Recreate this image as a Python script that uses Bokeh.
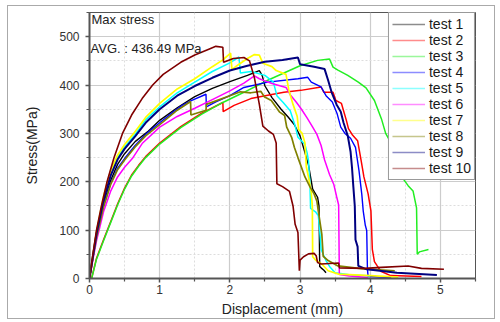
from bokeh.plotting import figure
from bokeh.models import Legend, LegendItem, FixedTicker, Range1d, Label
from bokeh.embed import file_html
from bokeh.resources import INLINE

# ---------------- data ----------------
test1_x = [0, 0.05, 0.1, 0.2, 0.3, 0.4, 0.5, 0.65, 0.84, 1.0, 1.25, 1.5, 1.75, 2.0, 2.25, 2.42, 2.46, 2.5, 2.6, 2.73, 2.83, 2.92, 3.0, 3.05, 3.12, 3.18, 3.25, 3.27, 3.28, 3.3, 3.34, 3.37]
test1_y = [0, 45, 88, 155, 202, 236, 258, 283, 305, 327, 353, 376, 393, 407, 420, 430, 420, 398, 374, 350, 334, 318, 295, 270, 235, 185, 168, 150, 25, 22, 17, 12]

test2_x = [0.03, 0.1, 0.2, 0.3, 0.4, 0.5, 0.6, 0.7, 0.8, 1.0, 1.3, 1.6, 1.9, 1.905, 2.06, 2.3, 2.54, 2.77, 3.01, 3.3, 3.34, 3.47, 3.51, 3.59, 3.66, 3.69, 3.75, 3.82, 3.87, 3.91, 3.97, 4.01, 4.03, 4.06, 4.1, 4.15, 4.29, 4.73]
test2_y = [0, 42, 80, 117, 154, 187, 214, 234, 252, 280, 314, 342, 364, 345, 358, 372, 379, 385, 389, 396, 385, 385, 368, 362, 327, 310, 296, 285, 244, 210, 175, 140, 60, 35, 26, 15, 6, 4]

test3_x = [0.03, 0.1, 0.2, 0.3, 0.4, 0.5, 0.6, 0.7, 0.8, 1.0, 1.3, 1.6, 1.9, 2.2, 2.54, 3.0, 3.25, 3.42, 3.47, 3.54, 3.68, 3.83, 3.94, 4.06, 4.16, 4.22, 4.29, 4.38, 4.47, 4.54, 4.61, 4.66, 4.67, 4.7, 4.83]
test3_y = [0, 40, 78, 115, 152, 185, 212, 232, 250, 278, 312, 340, 364, 385, 410, 440, 451, 454, 437, 431, 420, 406, 394, 368, 330, 300, 282, 250, 206, 192, 181, 146, 50, 55, 60]

test4_x = [0, 0.05, 0.1, 0.2, 0.3, 0.4, 0.5, 0.65, 0.8, 1.0, 1.2, 1.32, 1.45, 1.66, 1.665, 1.8, 2.0, 2.2, 2.54, 2.97, 3.11, 3.16, 3.3, 3.37, 3.46, 3.53, 3.58, 3.64, 3.72, 3.79, 3.84, 3.88, 3.9, 3.93, 3.95, 3.96, 3.97, 4.3]
test4_y = [0, 44, 86, 150, 196, 228, 248, 275, 298, 322, 345, 358, 368, 381, 355, 365, 378, 395, 406, 413, 416, 406, 396, 378, 365, 340, 313, 300, 290, 271, 223, 174, 140, 110, 99, 20, 4, 2]

test5_x = [0, 0.05, 0.1, 0.2, 0.3, 0.4, 0.5, 0.65, 0.8, 1.0, 1.25, 1.5, 1.75, 2.0, 2.13, 2.15, 2.3, 2.5, 2.62, 2.67, 2.76, 2.86, 2.93, 2.97, 3.07, 3.1, 3.12, 3.14, 3.15, 3.22, 3.26, 3.28, 3.3, 3.37, 3.42, 3.5, 3.7, 4.0]
test5_y = [0, 46, 92, 163, 215, 250, 272, 298, 328, 355, 384, 406, 428, 446, 458, 425, 428, 420, 406, 378, 364, 347, 316, 292, 277, 260, 244, 200, 145, 138, 130, 100, 60, 37, 25, 12, 8, 5]

test6_x = [0, 0.05, 0.1, 0.2, 0.3, 0.4, 0.5, 0.61, 0.75, 1.0, 1.25, 1.5, 1.75, 2.0, 2.2, 2.35, 2.42, 2.6, 2.8, 2.86, 2.95, 3.02, 3.1, 3.18, 3.24, 3.3, 3.35, 3.42, 3.48, 3.52, 3.55, 3.56, 3.7, 3.97]
test6_y = [0, 40, 78, 138, 180, 210, 230, 248, 279, 313, 335, 352, 370, 388, 404, 419, 413, 403, 395, 380, 364, 350, 332, 313, 298, 275, 245, 215, 195, 170, 152, 8, 5, 2]

test7_x = [0, 0.05, 0.1, 0.2, 0.3, 0.4, 0.5, 0.63, 0.8, 1.0, 1.25, 1.5, 1.75, 1.9, 2.01, 2.03, 2.1, 2.25, 2.35, 2.42, 2.47, 2.6, 2.66, 2.8, 2.84, 2.9, 2.96, 2.98, 3.03, 3.07, 3.09, 3.12, 3.16, 3.175, 3.18, 3.23, 3.31, 3.4, 3.55, 4.0, 4.4]
test7_y = [0, 50, 97, 170, 222, 255, 277, 300, 333, 362, 392, 413, 438, 452, 466, 432, 440, 455, 463, 462, 445, 438, 430, 422, 390, 360, 335, 308, 300, 280, 230, 210, 178, 150, 45, 37, 30, 16, 9, 6, 3]

test8_x = [0, 0.05, 0.1, 0.2, 0.3, 0.4, 0.5, 0.65, 0.8, 1.0, 1.25, 1.44, 1.445, 1.66, 1.665, 2.0, 2.15, 2.3, 2.44, 2.49, 2.59, 2.71, 2.78, 2.81, 2.88, 2.92, 2.97, 3.07, 3.14, 3.2, 3.24, 3.26, 3.31, 3.33, 3.4, 3.54, 3.9, 4.35]
test8_y = [0, 44, 85, 148, 194, 225, 245, 272, 295, 318, 348, 366, 338, 348, 360, 378, 386, 384, 387, 376, 368, 344, 337, 313, 292, 271, 250, 210, 190, 175, 160, 140, 92, 46, 37, 26, 20, 16]

test9_x = [0, 0.05, 0.1, 0.2, 0.3, 0.4, 0.5, 0.65, 0.8, 1.0, 1.25, 1.5, 1.75, 2.0, 2.25, 2.5, 2.75, 2.97, 3.0, 3.2, 3.35, 3.4, 3.45, 3.52, 3.58, 3.62, 3.68, 3.72, 3.74, 3.76, 3.78, 3.79, 3.82, 3.83, 3.95, 4.38, 4.95]
test9_y = [0, 47, 93, 162, 212, 246, 268, 294, 322, 350, 378, 398, 415, 430, 440, 448, 452, 457, 443, 438, 433, 410, 385, 360, 345, 322, 295, 262, 230, 189, 150, 80, 66, 26, 19, 12, 7]

test10_x = [0, 0.05, 0.1, 0.17, 0.25, 0.35, 0.47, 0.6, 0.75, 0.9, 1.05, 1.3, 1.5, 1.7, 1.8, 1.9, 1.91, 2.05, 2.2, 2.28, 2.35, 2.42, 2.47, 2.55, 2.62, 2.66, 2.67, 2.75, 2.85, 2.9, 2.93, 2.97, 2.99, 3.0, 3.05, 3.12, 3.2, 3.23, 3.25, 3.3, 3.55, 3.56, 3.92, 4.16, 4.54, 4.73, 5.05]
test10_y = [0, 52, 100, 150, 200, 250, 300, 338, 372, 400, 422, 447, 462, 474, 480, 478, 447, 455, 457, 450, 415, 360, 315, 305, 298, 280, 196, 190, 180, 150, 112, 95, 16, 38, 45, 51, 52, 47, 33, 30, 32, 22, 21, 23, 26, 21, 19]

series_names = ["test 1", "test 2", "test 3", "test 4", "test 5",
                "test 6", "test 7", "test 8", "test 9", "test 10"]
series_x = [test1_x, test2_x, test3_x, test4_x, test5_x, test6_x, test7_x, test8_x, test9_x, test10_x]
series_y = [test1_y, test2_y, test3_y, test4_y, test5_y, test6_y, test7_y, test8_y, test9_y, test10_y]
series_colors = ["#000000", "#FF0000", "#22EE22", "#0000FF", "#00FFFF",
                 "#FF00FF", "#FFFF00", "#808000", "#000080", "#800000"]
series_widths = [1.4, 1.5, 1.5, 1.4, 1.5, 1.5, 1.7, 1.7, 2.0, 1.6]

x_ticks = [0, 1, 2, 3, 4, 5]
x_minor = [0.5, 1.5, 2.5, 3.5, 4.5, 5.5]
y_ticks = [0, 100, 200, 300, 400, 500]
y_minor = [50, 150, 250, 350, 450, 550]

title_text = "Max stress"
avg_text = "AVG. : 436.49 MPa"

FONT = "Liberation Sans"

p = figure(width=488, height=314, output_backend="svg", toolbar_location=None,
           x_range=Range1d(0, 5.5), y_range=Range1d(0, 550),
           min_border_left=81, min_border_right=21, min_border_top=6, min_border_bottom=42)
p.styles = {"border": "1px solid #aaaaaa", "margin-left": "7px", "margin-top": "5px"}
p.background_fill_color = "white"
p.border_fill_color = "white"
p.outline_line_color = "#555555"
p.outline_line_width = 1

for ax, label, ticks, minor in ((p.xaxis[0], "Displacement (mm)", x_ticks, x_minor),
                                (p.yaxis[0], "Stress(MPa)", y_ticks, y_minor)):
    ax.ticker = FixedTicker(ticks=ticks, minor_ticks=minor)
    ax.axis_label = label
    ax.axis_label_text_font = FONT
    ax.axis_label_text_font_size = "14px"
    ax.axis_label_text_font_style = "normal"
    ax.axis_label_text_color = "#222222"
    ax.major_label_text_font = FONT
    ax.major_label_text_font_size = "12px"
    ax.major_label_text_color = "#333333"
    ax.axis_line_color = "#555555"
    ax.axis_line_width = 2
    ax.major_tick_line_color = "#555555"
    ax.major_tick_line_width = 1.5
    ax.minor_tick_line_color = "#555555"
    ax.minor_tick_line_width = 1.2
    ax.major_tick_in = 0
    ax.major_tick_out = 4
    ax.minor_tick_in = 0
    ax.minor_tick_out = 3

p.xaxis.major_label_standoff = 2
p.xaxis.axis_label_standoff = 4
p.yaxis.major_label_standoff = 6
p.yaxis.axis_label_standoff = 16

for g in (p.xgrid[0], p.ygrid[0]):
    g.grid_line_color = "#cccccc"
    g.grid_line_width = 1.2
    g.minor_grid_line_color = "#dddddd"
    g.minor_grid_line_dash = "2 2"
    g.minor_grid_line_width = 1
p.xgrid.ticker = FixedTicker(ticks=x_ticks, minor_ticks=x_minor)
p.ygrid.ticker = FixedTicker(ticks=y_ticks, minor_ticks=y_minor)

nan = float("nan")
items = []
for name, xs, ys, c, w in zip(series_names, series_x, series_y, series_colors, series_widths):
    p.line(xs, ys, line_color=c, line_width=w)
    dummy = p.line(x=[nan, nan], y=[nan, nan], line_color=c, line_width=1.6, line_alpha=0.45)
    items.append(LegendItem(label=name, renderers=[dummy]))

legend = Legend(items=items, location="top_right", margin=0, padding=3, spacing=0,
                label_height=16, glyph_height=16, glyph_width=33, label_standoff=4,
                label_text_font=FONT, label_text_font_size="14px", label_text_color="#1a1a1a",
                border_line_color="#333333", border_line_width=1,
                background_fill_color="white", background_fill_alpha=1.0)
p.add_layout(legend)

p.add_layout(Label(x=0, y=536, text=title_text, x_offset=2, text_baseline="middle",
                   text_font=FONT, text_font_size="13px", text_color="#222222"))
p.add_layout(Label(x=0, y=476, text=avg_text, x_offset=1, text_baseline="middle",
                   text_font=FONT, text_font_size="13px", text_color="#222222"))

open("out.html", "w").write(file_html(p, INLINE))
